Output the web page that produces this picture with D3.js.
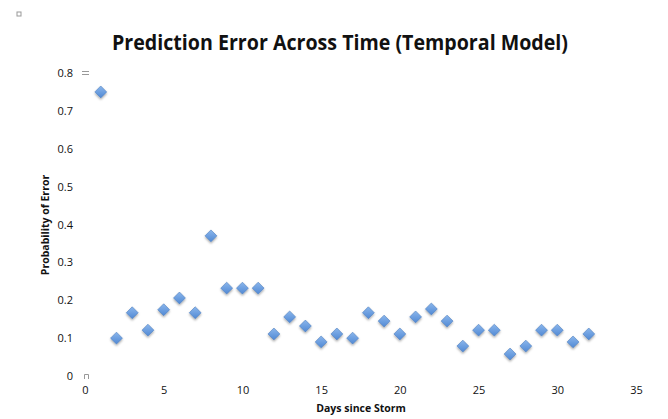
<!doctype html>
<html lang="en">
<head>
<meta charset="UTF-8">
<title>Prediction Error Across Time</title>
<script src="https://cdn.jsdelivr.net/npm/d3@7/dist/d3.min.js"></script>
<style>
  body { margin: 0; background: #fff; }
  svg text { font-family: "Open Sans", "DejaVu Sans", sans-serif; fill: #111; }
</style>
</head>
<body>
<div id="chart"></div>
<script>
// data
const days = [1,2,3,4,5,6,7,8,9,10,11,12,13,14,15,16,17,18,19,20,21,22,23,24,25,26,27,28,29,30,31,32]
const errors = [0.75,0.10,0.167,0.121,0.175,0.206,0.167,0.37,0.232,0.232,0.232,0.111,0.156,0.132,0.09,0.111,
                0.10,0.167,0.145,0.111,0.156,0.177,0.145,0.079,0.121,0.121,0.058,0.079,0.121,0.121,0.09,0.111]
const xTicks = [0,5,10,15,20,25,30,35]
const yTicks = [0,0.1,0.2,0.3,0.4,0.5,0.6,0.7,0.8]

const width = 668, height = 419

const svg = d3.select('#chart').append('svg')
    .attr('width', width).attr('height', height)

const x = d3.scaleLinear().domain([0, 35]).range([85, 636])
const y = d3.scaleLinear().domain([0, 0.8]).range([376, 73])

// marker look: blue gradient + soft shadow
const defs = svg.append('defs')
const grad = defs.append('linearGradient').attr('id', 'mk')
    .attr('x1', 0).attr('y1', 0).attr('x2', 0).attr('y2', 1)
grad.append('stop').attr('offset', '0%').attr('stop-color', '#8ab6ec')
grad.append('stop').attr('offset', '100%').attr('stop-color', '#5189d4')
const shadow = defs.append('filter').attr('id', 'sh')
    .attr('x', '-50%').attr('y', '-50%').attr('width', '200%').attr('height', '200%')
shadow.append('feDropShadow').attr('dx', 0).attr('dy', 1.5).attr('stdDeviation', 1.2)
    .attr('flood-color', '#000').attr('flood-opacity', 0.35)

// title
svg.append('text')
    .attr('x', 340).attr('y', 50)
    .attr('text-anchor', 'middle')
    .attr('font-size', 22).attr('font-weight', 'bold')
    .attr('textLength', 456).attr('lengthAdjust', 'spacingAndGlyphs')
    .text('Prediction Error Across Time (Temporal Model)')

// y axis (labels only)
const yAxis = svg.append('g')
    .attr('transform', 'translate(73,0)')
    .call(d3.axisLeft(y).tickValues(yTicks).tickSize(0).tickPadding(0)
        .tickFormat(d => d === 0 ? '0' : d3.format('.1f')(d)))
yAxis.select('.domain').remove()
yAxis.selectAll('text').attr('font-size', 11).style('font-family', '"Open Sans", sans-serif').attr('fill', '#111')

// x axis (labels only)
const xAxis = svg.append('g')
    .attr('transform', 'translate(0,386)')
    .call(d3.axisBottom(x).tickValues(xTicks).tickSize(0).tickPadding(0))
xAxis.select('.domain').remove()
xAxis.selectAll('text').attr('font-size', 11).style('font-family', '"Open Sans", sans-serif').attr('fill', '#111')

// axis titles
svg.append('text')
    .attr('x', 361).attr('y', 412)
    .attr('text-anchor', 'middle')
    .attr('font-size', 10.5).attr('font-weight', 'bold')
    .text('Days since Storm')

svg.append('text')
    .attr('transform', 'translate(49,225) rotate(-90)')
    .attr('text-anchor', 'middle')
    .attr('font-size', 10.5).attr('font-weight', 'bold')
    .text('Probability of Error')

// small selection handles left over in the picture
svg.append('rect').attr('x', 17).attr('y', 12).attr('width', 4).attr('height', 4)
    .attr('fill', 'none').attr('stroke', '#999').attr('stroke-width', 1)
svg.append('g').attr('stroke', '#999').attr('stroke-width', 1)
    .selectAll('line').data([71.5, 74.5]).join('line')
    .attr('x1', 82).attr('x2', 89).attr('y1', d => d).attr('y2', d => d)
svg.append('path').attr('d', 'M84.5,379 V374.5 H88.5 V379')
    .attr('fill', 'none').attr('stroke', '#999').attr('stroke-width', 1)

// points
const pts = days.map((d, i) => ({day: d, err: errors[i]}))
svg.append('g').selectAll('path').data(pts).join('path')
    .attr('transform', d => `translate(${x(d.day)},${y(d.err)})`)
    .attr('d', d3.symbol(d3.symbolDiamond2, 90))
    .attr('fill', 'url(#mk)')
    .attr('stroke', '#4f7fc0').attr('stroke-width', 0.6)
    .attr('stroke-linejoin', 'round')
    .attr('filter', 'url(#sh)')
</script>
</body>
</html>
